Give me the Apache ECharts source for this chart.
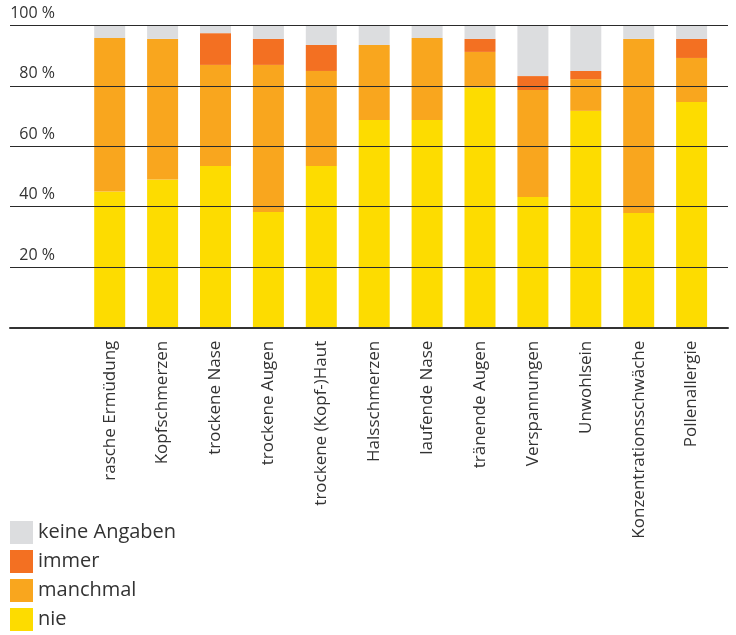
<!DOCTYPE html>
<html>
<head>
<meta charset="utf-8">
<script src="https://cdn.jsdelivr.net/npm/echarts@6/dist/echarts.min.js"></script>
<style>
html,body{margin:0;padding:0;background:#fff;}
#c{width:736px;height:635px;}
</style>
</head>
<body>
<div id="c"></div>
<script>
const categories = ['rasche Ermüdung','Kopfschmerzen','trockene Nase','trockene Augen','trockene (Kopf-)Haut','Halsschmerzen','laufende Nase','tränende Augen','Verspannungen','Unwohlsein','Konzentrationsschwäche','Pollenallergie'];
const nie        = [45, 49, 53.5, 38.3, 53.5, 68.7, 68.7, 79.4, 43.2, 71.7, 37.9, 74.6];
const manchmal   = [50.8, 46.5, 33.4, 48.6, 31.4, 24.8, 27.1, 11.8, 35.4, 10.5, 57.6, 14.6];
const immer      = [0, 0, 10.5, 8.6, 8.6, 0, 0, 4.3, 4.6, 2.7, 0, 6.3];
const keine      = [4.2, 4.5, 2.6, 4.5, 6.5, 6.5, 4.2, 4.5, 16.8, 15.1, 4.5, 4.5];
const yTicks     = [0, 20, 40, 60, 80, 100];
const legendOrder = ['keine Angaben','immer','manchmal','nie'];

const FONT = '"Open Sans", sans-serif';
const TXT = '#333';

const chart = echarts.init(document.getElementById('c'));
function bar(name, data, color){
  return {name, type:'bar', stack:'s', data, barWidth:31, xAxisIndex:0, yAxisIndex:0,
    itemStyle:{color}, emphasis:{disabled:true}};
}
chart.setOption({
  animation:false,
  textStyle:{fontFamily:FONT},
  legend:{
    orient:'vertical', left:10, top:521, height:200, padding:0,
    itemWidth:23, itemHeight:23, itemGap:6,
    icon:'rect', data:legendOrder,
    textStyle:{fontFamily:FONT, fontSize:20, lineHeight:23, color:TXT}
  },
  grid:[
    {left:83.25, right:17.95, top:25.3, bottom:307.3, containLabel:false},
    {left:10, right:8, top:25.3, bottom:307.3, containLabel:false}
  ],
  xAxis:[
    {type:'category', gridIndex:0, data:categories,
      axisLine:{show:false}, axisTick:{show:false},
      axisLabel:{rotate:90, margin:13, fontFamily:FONT, fontSize:17, color:TXT, interval:0}},
    {type:'value', gridIndex:1, min:0, max:1, z:6,
      axisLine:{show:true, lineStyle:{color:'#333', width:2}},
      axisTick:{show:false}, axisLabel:{show:false}, splitLine:{show:false}}
  ],
  yAxis:[
    {type:'value', gridIndex:0, min:0, max:100, interval:20, show:false, splitLine:{show:false}},
    {type:'value', gridIndex:1, min:yTicks[0], max:yTicks[yTicks.length-1], interval:20, z:5,
      axisLine:{show:false}, axisTick:{show:false},
      splitLine:{show:true, lineStyle:{color:'#2a2a2a', width:1}},
      axisLabel:{inside:true, align:'right', verticalAlign:'bottom', margin:45,
        padding:[0,0,4,0], fontFamily:FONT, fontSize:16, color:TXT,
        formatter:v => v === 0 ? '' : v + ' %'}}
  ],
  series:[
    bar('nie', nie, '#FDDC00'),
    bar('manchmal', manchmal, '#F9A61E'),
    bar('immer', immer, '#F37022'),
    bar('keine Angaben', keine, '#DCDDDF')
  ]
});
</script>
</body>
</html>
